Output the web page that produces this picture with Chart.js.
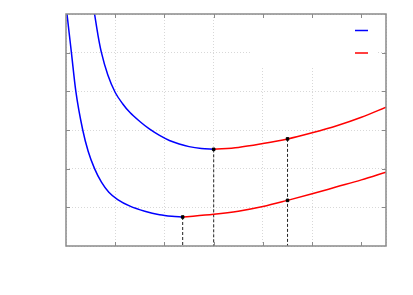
<!DOCTYPE html>
<html>
<head>
<meta charset="utf-8">
<script src="https://cdn.jsdelivr.net/npm/chart.js@4"></script>
<style>
  html, body { margin: 0; padding: 0; background: #fff; }
  #wrap { width: 413px; height: 295px; }
</style>
</head>
<body>
<div id="wrap"><canvas id="chart"></canvas></div>
<script>
// upper curve, falling part (blue) and rising part (red)
const upperBlueX = [0.58, 0.65, 0.72, 0.85, 1.0, 1.15, 1.3, 1.5, 1.7, 1.9, 2.1, 2.3, 2.5, 2.75, 3.0]
const upperBlueY = [6.0, 5.45, 5.0, 4.42, 3.97, 3.68, 3.45, 3.22, 3.02, 2.86, 2.73, 2.64, 2.57, 2.52, 2.5]
const upperRedX = [3.0, 3.5, 4.0, 4.5, 5.0, 5.5, 6.0, 6.5]
const upperRedY = [2.5, 2.55, 2.65, 2.77, 2.93, 3.11, 3.33, 3.59]

// lower curve
const lowerBlueX = [0.02, 0.065, 0.11, 0.2, 0.34, 0.45, 0.58, 0.72, 0.87, 1.05, 1.3, 1.6, 1.9, 2.15, 2.37]
const lowerBlueY = [6.0, 5.5, 5.0, 4.0, 3.0, 2.45, 2.0, 1.65, 1.39, 1.2, 1.03, 0.9, 0.81, 0.77, 0.75]
const lowerRedX = [2.37, 3.0, 3.5, 4.0, 4.5, 5.0, 5.5, 6.0, 6.5]
const lowerRedY = [0.75, 0.82, 0.9, 1.02, 1.18, 1.35, 1.53, 1.71, 1.91]

// marked points and the dashed drop lines under them
const markX = [2.37, 3.0, 4.5, 4.5]
const markY = [0.75, 2.5, 2.77, 1.18]
const dropX = [2.37, 3.0, 4.5]
const dropY = [0.75, 2.5, 2.77]

const xTicks = [1, 2, 3, 4, 5, 6]
const yTicks = [1, 2, 3, 4, 5]
const legendColors = ['#0000ff', '#ff0000']

const pts = (xs, ys) => xs.map((x, i) => ({ x, y: ys[i] }))

const curve = (xs, ys, color) => ({
  data: pts(xs, ys),
  borderColor: color,
  borderWidth: 1.5,
  pointRadius: 0,
  showLine: true,
  cubicInterpolationMode: 'monotone',
  order: 2
})

const drops = dropX.map((x, i) => ({
  data: [{ x, y: dropY[i] }, { x, y: 0 }],
  borderColor: '#222',
  borderWidth: 1,
  borderDash: [3, 2],
  pointRadius: 0,
  showLine: true,
  order: 3
}))

const frame = {
  id: 'frame',
  beforeDatasetsDraw (chart) {
    const { ctx, chartArea: a } = chart
    // legend box covers the grid in the top right corner
    ctx.save()
    ctx.fillStyle = '#fff'
    ctx.fillRect(252, a.top + 1, 125, 52)
    ctx.lineWidth = 1.5
    legendColors.forEach((c, i) => {
      ctx.strokeStyle = c
      ctx.beginPath()
      ctx.moveTo(355, 30.5 + i * 22.5)
      ctx.lineTo(368, 30.5 + i * 22.5)
      ctx.stroke()
    })
    ctx.restore()
  },
  afterDatasetsDraw (chart) {
    const { ctx, chartArea: a, scales } = chart
    ctx.save()
    ctx.strokeStyle = '#8a8a8a'
    ctx.lineWidth = 1
    ctx.beginPath()
    xTicks.forEach(v => {
      const x = Math.round(scales.x.getPixelForValue(v)) + 0.5
      ctx.moveTo(x, a.bottom); ctx.lineTo(x, a.bottom - 4)
      ctx.moveTo(x, a.top); ctx.lineTo(x, a.top + 4)
    })
    yTicks.forEach(v => {
      const y = Math.round(scales.y.getPixelForValue(v)) + 0.5
      ctx.moveTo(a.left, y); ctx.lineTo(a.left + 4, y)
      ctx.moveTo(a.right, y); ctx.lineTo(a.right - 4, y)
    })
    ctx.stroke()
    ctx.lineWidth = 1.5
    ctx.strokeRect(a.left, a.top, a.right - a.left, a.bottom - a.top)
    ctx.restore()
  }
}

new Chart(document.getElementById('chart'), {
  type: 'scatter',
  data: {
    datasets: [
      curve(upperBlueX, upperBlueY, '#0000ff'),
      curve(upperRedX, upperRedY, '#ff0000'),
      curve(lowerBlueX, lowerBlueY, '#0000ff'),
      curve(lowerRedX, lowerRedY, '#ff0000'),
      ...drops,
      {
        data: pts(markX, markY),
        backgroundColor: '#000',
        borderColor: '#000',
        pointStyle: 'rect',
        pointRadius: 1.8,
        order: 1
      }
    ]
  },
  options: {
    responsive: true,
    maintainAspectRatio: false,
    animation: false,
    layout: { padding: { left: 66, right: 27, top: 14, bottom: 49 } },
    plugins: { legend: { display: false }, tooltip: { enabled: false } },
    scales: {
      x: {
        type: 'linear',
        min: 0,
        max: 6.5,
        ticks: { stepSize: 1, display: false },
        grid: { color: '#d8d8d8', drawTicks: false },
        border: { display: false, dash: [1, 2] }
      },
      y: {
        min: 0,
        max: 6,
        ticks: { stepSize: 1, display: false },
        grid: { color: '#d8d8d8', drawTicks: false },
        border: { display: false, dash: [1, 2] }
      }
    }
  },
  plugins: [frame]
})
</script>
</body>
</html>
